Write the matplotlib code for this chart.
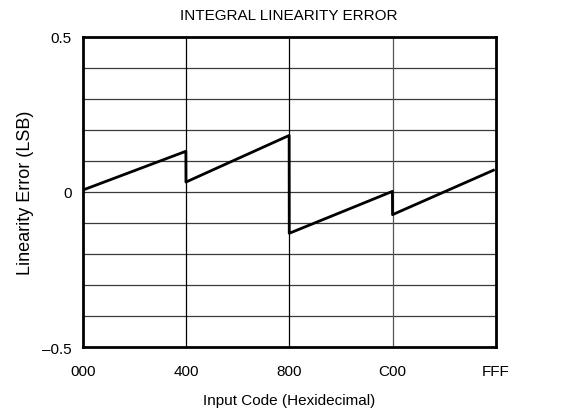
import numpy as np
import matplotlib.pyplot as plt

plt.rcParams['font.family'] = ['Liberation Sans', 'DejaVu Sans']

# input code (decimal) and INL error (LSB)
codes = [0, 1023, 1024, 2047, 2048, 3071, 3072, 4072]
inl = [0.006, 0.131, 0.032, 0.182, -0.133, 0.002, -0.073, 0.070]

xtick_pos = [0, 1024, 2048, 3072, 4095]
xtick_labels = ["000", "400", "800", "C00", "FFF"]
ytick_pos = [-0.5, 0, 0.5]
ytick_labels = ["\u20130.5", "0", "0.5"]

fig = plt.figure(figsize=(5.81, 4.14), dpi=100)
ax = fig.add_axes([0.1423, 0.1587, 0.7109, 0.7503])

for v in np.arange(-0.4, 0.45, 0.1):
    ax.axhline(v, color="#3a3a3a", lw=0.9, zorder=1)
for c in [1024, 2048]:
    ax.axvline(c, color="black", lw=0.9, zorder=1)
ax.axvline(3072, color="#555555", lw=0.9, zorder=1)

ax.plot(codes, inl, color="black", lw=2, zorder=3)

ax.set_xlim(0, 4095)
ax.set_ylim(-0.5, 0.5)
ax.set_xticks(xtick_pos)
ax.set_xticklabels(xtick_labels)
ax.set_yticks(ytick_pos)
ax.set_yticklabels(ytick_labels)
ax.tick_params(length=0, labelsize=11)
ax.tick_params(axis="x", pad=12)
ax.tick_params(axis="y", pad=8)
for s in ax.spines.values():
    s.set_linewidth(2)

ax.set_title("INTEGRAL LINEARITY ERROR", fontsize=11, pad=12.5)
ax.set_xlabel("Input Code (Hexidecimal)", fontsize=11, labelpad=11)
ax.set_ylabel("Linearity Error (LSB)", fontsize=13, labelpad=6)

fig.savefig("out.png", dpi=100)
